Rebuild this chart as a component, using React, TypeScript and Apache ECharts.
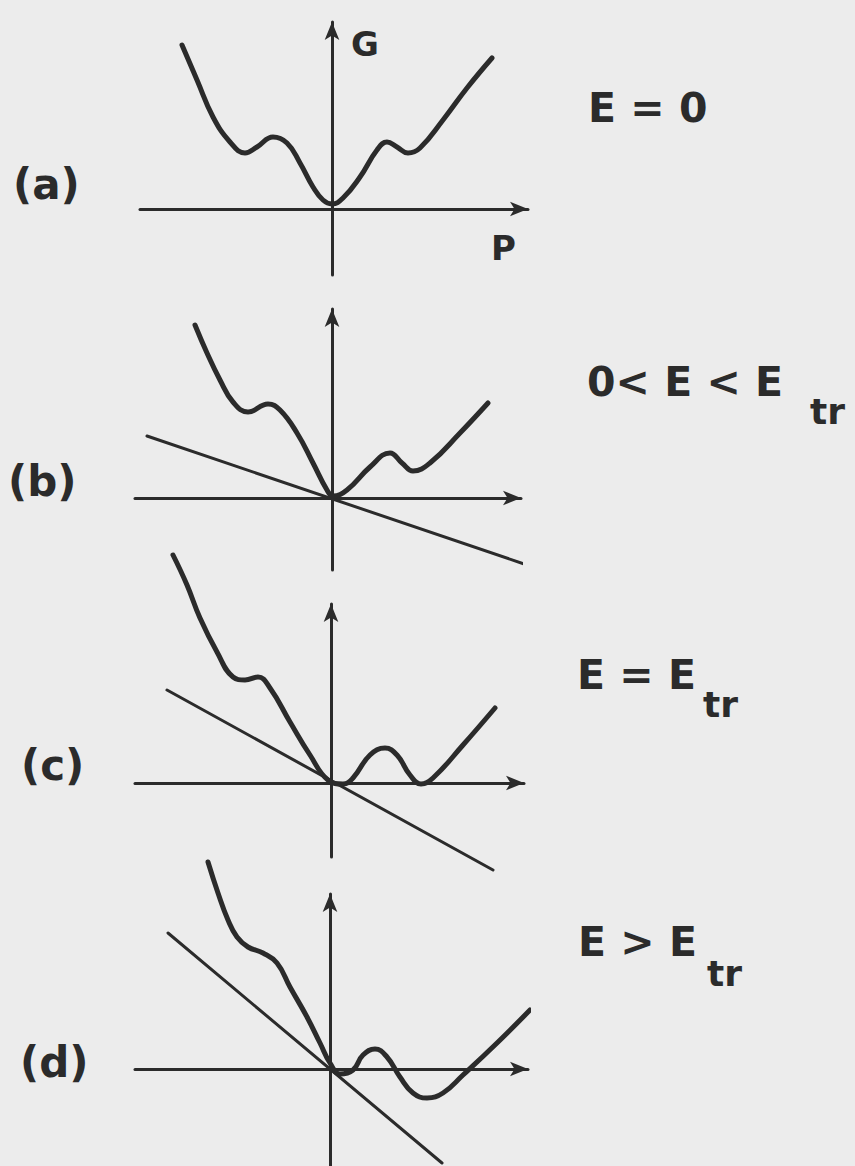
import React, { useEffect, useRef } from "react";
import * as echarts from "echarts";

const INK = "#2b2b2b";
const PAPER = "#ececec";
const FONT = "'DejaVu Sans', 'Liberation Sans', sans-serif";

// Free energy G against polarisation P, one curve per field strength: [P, G]
const curveA: number[][] = [
  [-3.75, 4.1], [-3.375, 3.225], [-2.975, 2.3], [-2.55, 1.675], [-2.175, 1.4],
  [-1.875, 1.55], [-1.475, 1.8], [-1.125, 1.65], [-0.8, 1.15], [-0.475, 0.55],
  [-0.225, 0.225], [0, 0.125], [0.275, 0.275], [0.7, 0.8], [1.125, 1.475],
  [1.375, 1.675], [1.625, 1.55], [1.9, 1.4], [2.2, 1.525], [2.775, 2.225],
  [3.375, 3.025], [4.0, 3.775],
];
const curveB: number[][] = [
  [-3.425, 4.325], [-3.125, 3.625], [-2.8, 2.95], [-2.475, 2.4], [-2.1, 2.15],
  [-1.6, 2.35], [-1.3, 2.2], [-0.875, 1.625], [-0.475, 0.875], [-0.125, 0.2],
  [0.025, 0.05], [0.375, 0.2], [0.95, 0.775], [1.45, 1.125], [1.75, 0.875],
  [2.025, 0.675], [2.45, 0.875], [3.2, 1.625], [3.9, 2.375],
];
const curveC: number[][] = [
  [-3.95, 5.7], [-3.6, 4.95], [-3.275, 4.125], [-2.85, 3.275], [-2.45, 2.65],
  [-2.15, 2.575], [-1.825, 2.65], [-1.525, 2.375], [-1.025, 1.525], [-0.525, 0.7],
  [-0.075, 0.075], [0.3, -0.025], [0.55, 0.125], [0.975, 0.7], [1.35, 0.875],
  [1.65, 0.7], [1.975, 0.2], [2.25, -0.025], [2.55, 0.125], [3.3, 0.95],
  [4.1, 1.875],
];
const curveD: number[][] = [
  [-3.05, 5.175], [-2.8, 4.4], [-2.55, 3.725], [-2.325, 3.3], [-2.05, 3.05],
  [-1.675, 2.9], [-1.325, 2.65], [-1.0, 2.05], [-0.575, 1.3], [-0.25, 0.65],
  [0, 0.15], [0.25, -0.125], [0.575, -0.025], [0.825, 0.35], [1.125, 0.5],
  [1.425, 0.3], [1.75, -0.2], [2.075, -0.6], [2.425, -0.725], [2.825, -0.6],
  [3.325, -0.15], [4.175, 0.65], [5.0, 1.475],
];

// Field term -E·P through the origin, end points [P, G]
const fieldLineB: number[][] = [[-4.625, 1.55], [5.025, -1.725]];
const fieldLineC: number[][] = [[-4.1, 2.325], [4.05, -2.175]];
const fieldLineD: number[][] = [[-4.05, 3.4], [2.8, -2.35]];

const curves = [curveA, curveB, curveC, curveD];
const fieldLines = [null, fieldLineB, fieldLineC, fieldLineD];

const panelLabels = ["(a)", "(b)", "(c)", "(d)"];
const fieldLabels = ["E = 0", "0< E < E", "E = E", "E > E"];
const fieldSubscripts = ["", "tr", "tr", "tr"];
const axisNames = ["G", "P"];

// Panel layout in pixels: origin and axis extents (arrow heads sit past these)
const UNIT = 40;
const ARROW = [11, 18];
const panels = [
  { ox: 332, oy: 209, left: 140, right: 528, top: 22, bottom: 275 },
  { ox: 332, oy: 498, left: 135, right: 521, top: 309, bottom: 570 },
  { ox: 331, oy: 783, left: 135, right: 524, top: 604, bottom: 857 },
  { ox: 330, oy: 1069, left: 135, right: 528, top: 894, bottom: 1170 },
];
const panelLabelPos = [
  { x: 13, y: 184 }, { x: 8, y: 481 }, { x: 21, y: 765 }, { x: 20, y: 1062 },
];
const fieldLabelPos = [
  { x: 588, y: 108, sx: 0, sy: 0 },
  { x: 587, y: 382, sx: 810, sy: 411 },
  { x: 577, y: 675, sx: 703, sy: 704 },
  { x: 578, y: 942, sx: 707, sy: 973 },
];

export default function App() {
  const ref = useRef<HTMLDivElement>(null);

  useEffect(() => {
    if (!ref.current) return;
    const chart = echarts.init(ref.current, undefined, { renderer: "svg" });

    const grid = panels.map((p) => ({
      left: p.left,
      top: p.top,
      width: p.right - p.left,
      height: p.bottom - p.top,
      containLabel: false,
      outerBoundsMode: "none",
    }));

    const axisLine = {
      show: true,
      onZero: true,
      symbol: ["none", "arrow"],
      symbolSize: ARROW,
      lineStyle: { color: INK, width: 3, cap: "round" },
    };

    const xAxis = panels.map((p, i) => ({
      type: "value",
      gridIndex: i,
      min: (p.left - p.ox) / UNIT,
      max: (p.right - p.ox) / UNIT,
      axisLine,
      axisTick: { show: false },
      axisLabel: { show: false },
      splitLine: { show: false },
    }));
    const yAxis = panels.map((p, i) => ({
      type: "value",
      gridIndex: i,
      min: (p.oy - p.bottom) / UNIT,
      max: (p.oy - p.top) / UNIT,
      axisLine,
      axisTick: { show: false },
      axisLabel: { show: false },
      splitLine: { show: false },
    }));

    const series: any[] = [];
    curves.forEach((data, i) => {
      series.push({
        type: "line",
        xAxisIndex: i,
        yAxisIndex: i,
        data,
        smooth: 0.45,
        showSymbol: false,
        clip: false,
        lineStyle: { color: INK, width: 5, cap: "round", join: "round" },
        z: 3,
      });
      const fl = fieldLines[i];
      if (fl) {
        series.push({
          type: "line",
          xAxisIndex: i,
          yAxisIndex: i,
          data: fl,
          showSymbol: false,
          clip: false,
          lineStyle: { color: INK, width: 3, cap: "round" },
          z: 2,
        });
      }
    });

    const textStyle = (text: string, size: number) => ({
      text,
      fill: INK,
      fontFamily: FONT,
      fontWeight: "bold",
      fontSize: size,
      verticalAlign: "middle",
      align: "left",
    });

    const graphic: any[] = [];
    panelLabels.forEach((t, i) => {
      graphic.push({ type: "text", x: panelLabelPos[i].x, y: panelLabelPos[i].y, style: textStyle(t, 42) });
    });
    fieldLabels.forEach((t, i) => {
      const pos = fieldLabelPos[i];
      graphic.push({ type: "text", x: pos.x, y: pos.y, style: textStyle(t, 41) });
      if (fieldSubscripts[i]) {
        graphic.push({ type: "text", x: pos.sx, y: pos.sy, style: textStyle(fieldSubscripts[i], 36) });
      }
    });
    graphic.push({ type: "text", x: 351, y: 44, style: textStyle(axisNames[0], 34) });
    graphic.push({ type: "text", x: 491, y: 248, style: textStyle(axisNames[1], 34) });

    chart.setOption({
      animation: false,
      backgroundColor: PAPER,
      grid,
      xAxis,
      yAxis,
      series,
      graphic,
    });

    return () => chart.dispose();
  }, []);

  return (
    <div
      ref={ref}
      style={{ position: "absolute", left: 0, top: 0, width: 855, height: 1166 }}
    />
  );
}
